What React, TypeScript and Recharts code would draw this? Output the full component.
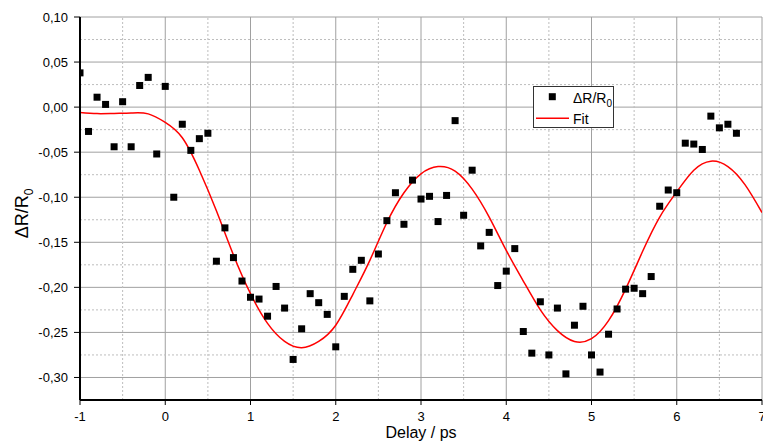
import React from 'react';
import { ComposedChart, XAxis, YAxis, CartesianGrid, Scatter, Line, Legend, ReferenceLine } from 'recharts';

const delays = [
  -1.0, -0.9, -0.8, -0.7, -0.6, -0.5, -0.4, -0.3, -0.2, -0.1,
  0.0, 0.1, 0.2, 0.3, 0.4, 0.5, 0.6, 0.7, 0.8, 0.9,
  1.0, 1.1, 1.2, 1.3, 1.4, 1.5, 1.6, 1.7, 1.8, 1.9,
  2.0, 2.1, 2.2, 2.3, 2.4, 2.5, 2.6, 2.7, 2.8, 2.9,
  3.0, 3.1, 3.2, 3.3, 3.4, 3.5, 3.6, 3.7, 3.8, 3.9,
  4.0, 4.1, 4.2, 4.3, 4.4, 4.5, 4.6, 4.7, 4.8, 4.9,
  5.0, 5.1, 5.2, 5.3, 5.4, 5.5, 5.6, 5.7, 5.8, 5.9,
  6.0, 6.1, 6.2, 6.3, 6.4, 6.5, 6.6, 6.7,
];

const deltaR = [
  0.038, -0.027, 0.011, 0.003, -0.044, 0.006, -0.044, 0.024, 0.033, -0.052,
  0.023, -0.100, -0.019, -0.048, -0.035, -0.029, -0.171, -0.134, -0.167, -0.193,
  -0.211, -0.213, -0.232, -0.199, -0.223, -0.280, -0.246, -0.207, -0.217, -0.230,
  -0.266, -0.210, -0.180, -0.170, -0.215, -0.163, -0.126, -0.095, -0.130, -0.081,
  -0.102, -0.099, -0.127, -0.098, -0.015, -0.120, -0.070, -0.154, -0.139, -0.198,
  -0.182, -0.157, -0.249, -0.273, -0.216, -0.275, -0.223, -0.296, -0.242, -0.221,
  -0.275, -0.294, -0.252, -0.224, -0.202, -0.201, -0.207, -0.188, -0.110, -0.092,
  -0.095, -0.040, -0.041, -0.047, -0.010, -0.023, -0.019, -0.029,
];

const fitDelays = [
  -1.0, -0.8, -0.6, -0.4, -0.2, 0.0, 0.2, 0.4, 0.6, 0.8,
  1.0, 1.2, 1.4, 1.6, 1.8, 2.0, 2.2, 2.4, 2.6, 2.8,
  3.0, 3.2, 3.4, 3.6, 3.8, 4.0, 4.2, 4.4, 4.6, 4.8,
  5.0, 5.2, 5.4, 5.6, 5.8, 6.0, 6.2, 6.4, 6.6, 6.8, 7.0,
];

const fitValues = [
  -0.006, -0.0072, -0.007, -0.0066, -0.0075, -0.017, -0.034, -0.070, -0.115, -0.164,
  -0.207, -0.240, -0.260, -0.267, -0.260, -0.242, -0.208, -0.170, -0.128, -0.095,
  -0.074, -0.066, -0.071, -0.091, -0.122, -0.159, -0.193, -0.225, -0.248, -0.260,
  -0.257, -0.237, -0.202, -0.160, -0.122, -0.094, -0.070, -0.060, -0.066, -0.086, -0.117,
];

const xTicks = [-1, 0, 1, 2, 3, 4, 5, 6, 7];
const xMinorTicks = [-0.5, 0.5, 1.5, 2.5, 3.5, 4.5, 5.5, 6.5];
const yTicks = [0.1, 0.05, 0, -0.05, -0.1, -0.15, -0.2, -0.25, -0.3];
const yMinorTicks = [0.075, 0.025, -0.025, -0.075, -0.125, -0.175, -0.225, -0.275];

const xDomain = [-1, 7];
const yDomain = [-0.325, 0.1];

const scatterData = delays.map((x, i) => ({ x, y: deltaR[i] }));
const fitData = fitDelays.map((x, i) => ({ x, y: fitValues[i] }));

const fmtY = (v: number) => v.toFixed(2).replace('.', ',');

const FONT = "'Liberation Sans', Arial, sans-serif";

const Square = (props: any) => {
  const { cx, cy } = props;
  if (cx == null || cy == null) return null;
  return <rect x={cx - 3.5} y={cy - 3.5} width={7} height={7} fill="#000" />;
};

const YLabel = (props: any) => {
  const vb = props.viewBox || { x: 0, y: 17, width: 80, height: 383 };
  const cx = vb.x + 28;
  const cy = vb.y + vb.height / 2 + 5;
  return (
    <text
      x={cx}
      y={cy}
      transform={`rotate(-90, ${cx}, ${cy})`}
      textAnchor="middle"
      fontSize={18}
      fill="#000"
      fontFamily={FONT}
    >
      ΔR/R<tspan fontSize={12} dy={5}>0</tspan>
    </text>
  );
};

const LegendBox = () => (
  <div
    style={{
      width: 81,
      height: 42,
      boxSizing: 'border-box',
      border: '1px solid #333',
      background: '#fff',
    }}
  >
    <svg width={79} height={40} style={{ display: 'block' }}>
      <rect x={14.8} y={6.2} width={7} height={7} fill="#000" />
      <text x={39} y={15.5} fontSize={14} fill="#000" fontFamily={FONT}>
        ΔR/R<tspan fontSize={10} dy={4}>0</tspan>
      </text>
      <line x1={2} x2={35} y1={31.3} y2={31.3} stroke="#ff0000" strokeWidth={1.5} />
      <text x={39} y={37} fontSize={14} fill="#000" fontFamily={FONT}>
        Fit
      </text>
    </svg>
  </div>
);

export default function App() {
  return (
    <div style={{ position: 'absolute', left: 0, top: 0, width: 763, height: 443, background: '#fff' }}>
      <ComposedChart
        width={763}
        height={443}
        margin={{ top: 17, right: 1, bottom: 0, left: 0 }}
        style={{ fontFamily: FONT }}
      >
        <CartesianGrid stroke="#a0a0a0" strokeWidth={1} />
        {xMinorTicks.map((v) => (
          <ReferenceLine
            key={`vx${v}`}
            x={v}
            stroke="#bdbdbd"
            strokeDasharray="2 2"
            strokeWidth={1}
          />
        ))}
        {yMinorTicks.map((v) => (
          <ReferenceLine
            key={`hy${v}`}
            y={v}
            stroke="#bdbdbd"
            strokeDasharray="2 2"
            strokeWidth={1}
          />
        ))}

        <XAxis
          xAxisId="xminor"
          type="number"
          domain={xDomain}
          ticks={xMinorTicks}
          height={0}
          tickSize={3}
          tick={false}
          axisLine={false}
          tickLine={{ stroke: '#000' }}
          allowDataOverflow
        />
        <XAxis
          type="number"
          dataKey="x"
          domain={xDomain}
          ticks={xTicks}
          height={43}
          tickSize={5}
          tickMargin={7}
          tick={{ fontSize: 13, fill: '#000' }}
          axisLine={{ stroke: '#000', strokeWidth: 2 }}
          tickLine={{ stroke: '#000' }}
          allowDataOverflow
          interval={0}
          label={{ value: 'Delay / ps', position: 'insideBottom', offset: 5, fontSize: 16, fill: '#000' }}
        />
        <XAxis
          xAxisId="top"
          orientation="top"
          type="number"
          domain={xDomain}
          ticks={xTicks}
          height={0}
          mirror
          tickSize={5}
          tick={false}
          axisLine={{ stroke: '#000', strokeWidth: 1.5 }}
          tickLine={{ stroke: '#000' }}
          allowDataOverflow
        />
        <XAxis
          xAxisId="topminor"
          orientation="top"
          type="number"
          domain={xDomain}
          ticks={xMinorTicks}
          height={0}
          mirror
          tickSize={3}
          tick={false}
          axisLine={false}
          tickLine={{ stroke: '#000' }}
          allowDataOverflow
        />

        <YAxis
          yAxisId="yminor"
          type="number"
          domain={yDomain}
          ticks={yMinorTicks}
          width={0}
          tickSize={3}
          tick={false}
          axisLine={false}
          tickLine={{ stroke: '#000' }}
          allowDataOverflow
        />
        <YAxis
          type="number"
          dataKey="y"
          domain={yDomain}
          ticks={yTicks}
          width={80}
          tickSize={6}
          tickMargin={6}
          tickFormatter={fmtY}
          tick={{ fontSize: 13, fill: '#000' }}
          axisLine={{ stroke: '#000', strokeWidth: 2 }}
          tickLine={{ stroke: '#000' }}
          allowDataOverflow
          interval={0}
          label={<YLabel />}
        />
        <YAxis
          yAxisId="right"
          orientation="right"
          type="number"
          domain={yDomain}
          ticks={yTicks}
          width={0}
          mirror
          tickSize={5}
          tick={false}
          axisLine={{ stroke: '#999', strokeWidth: 1 }}
          tickLine={{ stroke: '#000' }}
          allowDataOverflow
        />
        <YAxis
          yAxisId="rightminor"
          orientation="right"
          type="number"
          domain={yDomain}
          ticks={yMinorTicks}
          width={0}
          mirror
          tickSize={3}
          tick={false}
          axisLine={false}
          tickLine={{ stroke: '#000' }}
          allowDataOverflow
        />

        <Line
          data={fitData}
          dataKey="y"
          type="natural"
          stroke="#ff0000"
          strokeWidth={1.5}
          dot={false}
          activeDot={false}
          isAnimationActive={false}
          legendType="line"
          name="Fit"
        />
        <Scatter
          data={scatterData}
          dataKey="y"
          shape={<Square />}
          isAnimationActive={false}
          name="ΔR/R0"
        />
        <Legend
          layout="horizontal"
          verticalAlign="middle"
          align="center"
          wrapperStyle={{ left: 533, top: 86, width: 81, height: 42 }}
          content={() => <LegendBox />}
        />
      </ComposedChart>
    </div>
  );
}
